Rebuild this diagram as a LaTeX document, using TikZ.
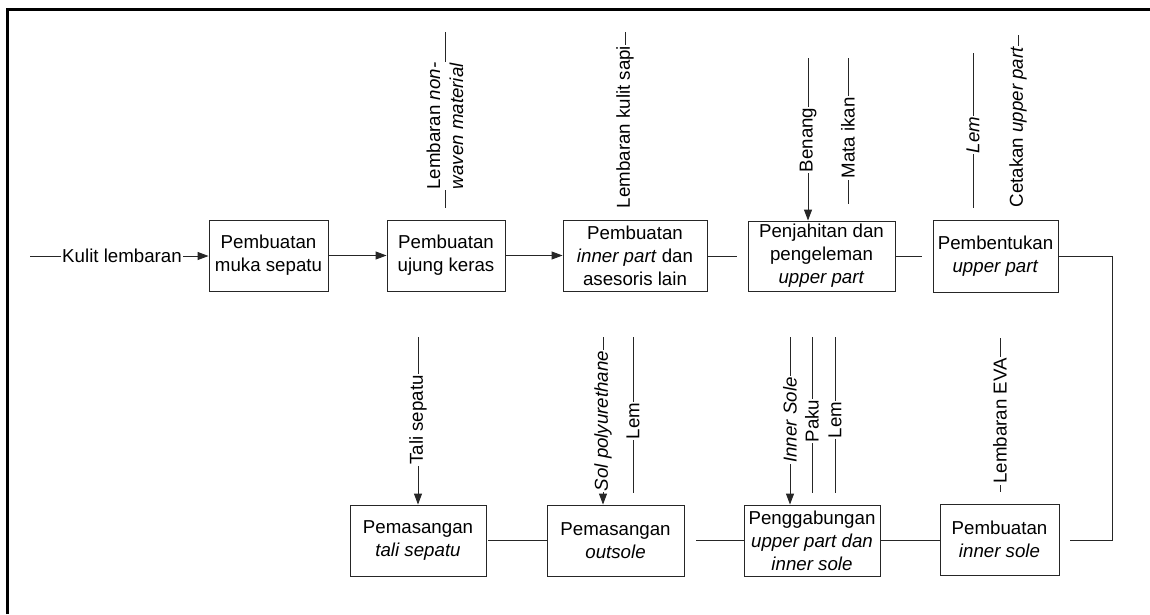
\documentclass[tikz,border=0pt]{standalone}
\usepackage{fontspec}
\setmainfont{Liberation Sans}
\usetikzlibrary{arrows.meta}
\begin{document}
\begin{tikzpicture}[x=1pt,y=-1pt,
  txt/.style={font=\fontsize{18.7}{23}\selectfont},
  box/.style={txt, draw=black!85, line width=0.9pt, align=center, inner sep=1pt},
  ln/.style={draw=black!85, line width=0.9pt},
  arr/.style={ln, -{Triangle[length=11pt,width=8pt]}},
  lbl/.style={txt, fill=white, inner sep=1pt, align=center},
  vlbl/.style={lbl, rotate=90},
]
\useasboundingbox (0,0) rectangle (1150,614);
\draw[line width=3pt] (7.5,614) -- (7.5,9.5) -- (1150,9.5);

% top row
\node[box, minimum width=119pt, minimum height=71pt] (b1) at (268.5,255.5) {Pembuatan\\muka sepatu};
\node[box, minimum width=118pt, minimum height=71pt] (b2) at (446,255.5) {Pembuatan\\ujung keras};
\node[box, minimum width=144pt, minimum height=71pt] (b3) at (635,255.5) {Pembuatan\\\textit{inner part} dan\\asesoris lain};
\node[box, minimum width=147pt, minimum height=70pt] (b4) at (821.5,256) {Penjahitan dan\\pengeleman\\\textit{upper part}};
\node[box, minimum width=125pt, minimum height=72pt] (b5) at (995.5,256) {Pembentukan\\\textit{upper part}};
% bottom row
\node[box, minimum width=136pt, minimum height=71pt] (b6) at (418,540.5) {Pemasangan\\\textit{tali sepatu}};
\node[box, minimum width=137pt, minimum height=71pt] (b7) at (615.5,540.5) {Pemasangan\\\textit{outsole}};
\node[box, minimum width=136pt, minimum height=71pt] (b8) at (812,540.5) {Penggabungan\\\textit{upper part dan}\\\textit{inner sole}};
\node[box, minimum width=119pt, minimum height=71pt] (b9) at (999.5,539.5) {Pembuatan\\\textit{inner sole}};

% horizontal flow
\coordinate (k0) at (30,256);
\draw[arr] (k0) -- (k0 -| b1.west);
\node[lbl] (kl) at (122,256) {Kulit lembaran};
\draw[arr] (b1.east) -- (b1.east -| b2.west);
\draw[arr] (b2.east) -- (b2.east -| b3.west);
\coordinate (e3) at (737,256);
\draw[ln] (b3.east |- e3) -- (e3);
\coordinate (e4) at (922,256);
\draw[ln] (b4.east |- e4) -- (e4);
\coordinate (r1) at (1112,256);
\coordinate (r2) at (1112,540);
\coordinate (r3) at (1070,540);
\draw[ln] (b5.east |- r1) -- (r1) -- (r2) -- (r3);
\coordinate (g7) at (488,540);
\draw[ln] (g7) -- (g7 -| b7.west);
\coordinate (g8) at (696,540);
\draw[ln] (g8) -- (g8 -| b8.west);
\draw[ln] (b8.east |- 0,540) -- (b9.west |- 0,540);

% top inputs
\coordinate (t1) at (445,32);
\draw[ln] (t1) -- (445,208);
\node[vlbl] (l1) at (445,126) {Lembaran \textit{non-}\\\textit{waven material}};
\coordinate (t2) at (625,32);
\draw[ln] (t2) -- (625,207);
\node[vlbl] (l2) at (625,127) {Lembaran kulit sapi};
\coordinate (t3) at (808,58);
\draw[arr] (t3) -- (t3 |- b4.north);
\node[vlbl] (l3) at (808,140) {Benang};
\coordinate (t4) at (848,58);
\draw[ln] (t4) -- (848,204);
\node[vlbl] (l4) at (848,138) {Mata ikan};
\coordinate (t5) at (973,53);
\draw[ln] (t5) -- (973,208);
\node[vlbl] (l5) at (973,135) {\textit{Lem}};
\coordinate (t6) at (1018,35);
\draw[ln] (t6) -- (1018,208);
\node[vlbl] (l6) at (1018,127) {Cetakan \textit{upper part}};

% bottom inputs
\coordinate (s1) at (418,337);
\draw[arr] (s1) -- (s1 |- b6.north);
\node[vlbl] (m1) at (418,420) {Tali sepatu};
\coordinate (s2) at (603,337);
\draw[arr] (s2) -- (s2 |- b7.north);
\node[vlbl] (m2) at (603,421) {\textit{Sol polyurethane}};
\coordinate (s3) at (633,337);
\draw[ln] (s3) -- (633,493);
\node[vlbl] (m3) at (633,421) {Lem};
\coordinate (s4) at (790,337);
\draw[arr] (s4) -- (s4 |- b8.north);
\node[vlbl] (m4) at (790,420) {\textit{Inner Sole}};
\coordinate (s5) at (812,337);
\draw[ln] (s5) -- (812,493);
\node[vlbl] (m5) at (812,421) {Paku};
\coordinate (s6) at (835,337);
\draw[ln] (s6) -- (835,493);
\node[vlbl] (m6) at (835,420) {Lem};
\coordinate (s7) at (1000,338);
\draw[ln] (s7) -- (1000,492);
\node[vlbl] (m7) at (1000,421) {Lembaran EVA};
\end{tikzpicture}
\end{document}
